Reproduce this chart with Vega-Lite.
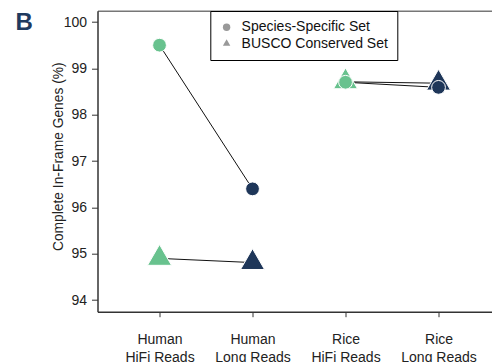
{
  "$schema": "https://vega.github.io/schema/vega-lite/v6.json",
  "autosize": "none",
  "padding": {"left": 97.5, "top": 10.7, "right": 0, "bottom": 50.3},
  "width": 394.5,
  "height": 301,
  "background": "white",
  "config": {
    "font": "Liberation Sans",
    "view": {"stroke": null},
    "legend": {
      "orient": "none",
      "legendX": 112.8,
      "legendY": 0.3,
      "strokeColor": "black",
      "strokeWidth": 1,
      "padding": 9.3,
      "rowPadding": 2.3,
      "labelFontSize": 14,
      "labelColor": "#111",
      "labelOffset": 8,
      "symbolSize": 55,
      "symbolFillColor": "#999",
      "symbolStrokeWidth": 0,
      "symbolType": "circle"
    }
  },
  "title": {
    "text": "B",
    "orient": "top",
    "anchor": "start",
    "frame": "group",
    "baseline": "top",
    "offset": 0,
    "dx": -82,
    "dy": 24,
    "fontSize": 24,
    "fontWeight": "bold",
    "color": "#1f3a5f"
  },
  "data": {
    "values": [
      {"org": "Human", "platform": "HiFi", "cat": "Human HiFi Reads", "set": "Species-Specific Set", "value": 99.5},
      {"org": "Human", "platform": "Long", "cat": "Human Long Reads", "set": "Species-Specific Set", "value": 96.4},
      {"org": "Rice", "platform": "HiFi", "cat": "Rice HiFi Reads", "set": "Species-Specific Set", "value": 98.7},
      {"org": "Rice", "platform": "Long", "cat": "Rice Long Reads", "set": "Species-Specific Set", "value": 98.59},
      {"org": "Human", "platform": "HiFi", "cat": "Human HiFi Reads", "set": "BUSCO Conserved Set", "value": 94.9},
      {"org": "Human", "platform": "Long", "cat": "Human Long Reads", "set": "BUSCO Conserved Set", "value": 94.81},
      {"org": "Rice", "platform": "HiFi", "cat": "Rice HiFi Reads", "set": "BUSCO Conserved Set", "value": 98.71},
      {"org": "Rice", "platform": "Long", "cat": "Rice Long Reads", "set": "BUSCO Conserved Set", "value": 98.68}
    ]
  },
  "resolve": {"axis": {"x": "independent"}},
  "encoding": {
    "x": {
      "field": "cat",
      "type": "nominal",
      "sort": ["Human HiFi Reads", "Human Long Reads", "Rice HiFi Reads", "Rice Long Reads"],
      "scale": {"type": "point", "domain": ["Human HiFi Reads", "Human Long Reads", "Rice HiFi Reads", "Rice Long Reads"], "padding": 0.621, "align": 0.537}
    },
    "y": {
      "field": "value",
      "type": "quantitative",
      "scale": {"domain": [93.75, 100.244], "nice": false, "zero": false}
    }
  },
  "layer": [
    {
      "mark": {"type": "line", "color": "#111", "strokeWidth": 1},
      "encoding": {
        "detail": [{"field": "org"}, {"field": "set"}],
        "x": {
          "field": "cat",
          "type": "nominal",
          "axis": {
            "orient": "bottom",
            "title": null,
            "labelAngle": 0,
            "labelExpr": "[substring(datum.label, 0, indexof(datum.label, ' ')), substring(datum.label, indexof(datum.label, ' ') + 1)]",
            "labelFontSize": 14,
            "labelLineHeight": 17.5,
            "labelColor": "#222",
            "labelPadding": 16,
            "tickSize": 5,
            "tickColor": "#333",
            "tickWidth": 1,
            "domainColor": "#333",
            "domainWidth": 1.5,
            "grid": false
          }
        },
        "y": {
          "field": "value",
          "type": "quantitative",
          "axis": {
            "title": "Complete In-Frame Genes (%)",
            "titleFontSize": 13.8,
            "titleFontWeight": "normal",
            "titleColor": "#222",
            "titleX": -35.5,
            "titleY": 145.5,
            "titleBaseline": "alphabetic",
            "titleAngle": -90,
            "titleAlign": "center",
            "values": [94, 95, 96, 97, 98, 99, 100],
            "labelFontSize": 14,
            "labelColor": "#222",
            "labelPadding": 5,
            "tickSize": 6,
            "tickColor": "#333",
            "tickWidth": 1,
            "domainColor": "#333",
            "domainWidth": 1.5,
            "grid": false
          }
        }
      }
    },
    {
      "transform": [{"filter": "datum.set === 'BUSCO Conserved Set'"}],
      "mark": {"type": "point", "filled": true, "size": 576, "opacity": 1, "stroke": "white", "strokeWidth": 1},
      "encoding": {
        "x": {
          "field": "cat",
          "type": "nominal",
          "axis": {"orient": "top", "labels": false, "ticks": false, "title": null, "domainColor": "#777", "domainWidth": 1.5, "grid": false}
        },
        "shape": {
          "field": "set",
          "type": "nominal",
          "scale": {"domain": ["Species-Specific Set", "BUSCO Conserved Set"], "range": ["circle", "M0,-1.155L1,0.577L-1,0.577Z"]},
          "legend": {"title": null}
        },
        "color": {
          "field": "platform",
          "type": "nominal",
          "scale": {"domain": ["HiFi", "Long"], "range": ["#68c28e", "#1e3659"]},
          "legend": null
        }
      }
    },
    {
      "transform": [{"filter": "datum.set === 'Species-Specific Set'"}],
      "mark": {"type": "point", "filled": true, "size": 190, "opacity": 1, "stroke": "white", "strokeWidth": 1},
      "encoding": {
        "x": {"field": "cat", "type": "nominal", "axis": null},
        "shape": {"field": "set", "type": "nominal", "legend": {"title": null}},
        "color": {"field": "platform", "type": "nominal", "legend": null}
      }
    }
  ]
}
